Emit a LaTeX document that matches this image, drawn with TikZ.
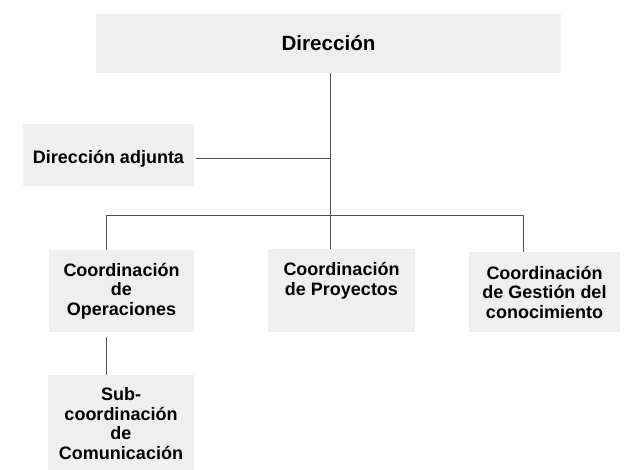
\documentclass[tikz,border=0pt]{standalone}
\usepackage{fontspec}
\setmainfont{Liberation Sans}
\definecolor{boxgray}{HTML}{EFEFEF}
\definecolor{linegray}{HTML}{505050}
\begin{document}
\begin{tikzpicture}[x=1pt,y=-1pt,
  box/.style={fill=boxgray, draw=none, inner sep=0pt, align=center,
    font=\bfseries\fontsize{18}{19.5}\selectfont},
  label/.style={inner sep=0pt, align=center,
    font=\bfseries\fontsize{18}{19.5}\selectfont},
  conn/.style={draw=linegray, line width=1pt}]
\useasboundingbox[fill=white] (0,0) rectangle (630,470);
\node[box, minimum width=465pt, minimum height=59pt,
  font=\bfseries\fontsize{20.6}{24}\selectfont] (dir) at (328.5,43.5) {Dirección};
\node[box, minimum width=171pt, minimum height=62pt] (adj) at (108.5,155) {};
\node[label] (adjtxt) at (108.5,158.5) {Dirección adjunta};
\node[box, minimum width=145pt, minimum height=82pt] (op) at (121.5,291) {Coordinación\\de\\Operaciones};
\node[box, minimum width=147pt, minimum height=83pt] (proy) at (341.5,290.5) {};
\node[label, anchor=north] (proytxt) at (341.5,262.5) {Coordinación\\de Proyectos};
\node[box, minimum width=151pt, minimum height=80pt] (gest) at (544.5,292) {Coordinación\\de Gestión del\\conocimiento};
\node[box, minimum width=146pt, minimum height=97pt] (sub) at (121,423.5) {Sub-\\coordinación\\de\\Comunicación};
\coordinate (trunk) at (330,216);
\coordinate (barL) at (106,216);
\coordinate (barR) at (523,216);
\coordinate (adjJ) at (330,159);
\draw[conn] (dir.south -| trunk) -- (proy.north -| trunk);
\draw[conn] ([xshift=2pt]adj.east |- adjJ) -- (adjJ);
\draw[conn] (op.north -| barL) -- (barL) -- (barR) -- (gest.north -| barR);
\draw[conn] ([yshift=-5pt]op.south -| barL) -- (sub.north -| barL);
\end{tikzpicture}
\end{document}
